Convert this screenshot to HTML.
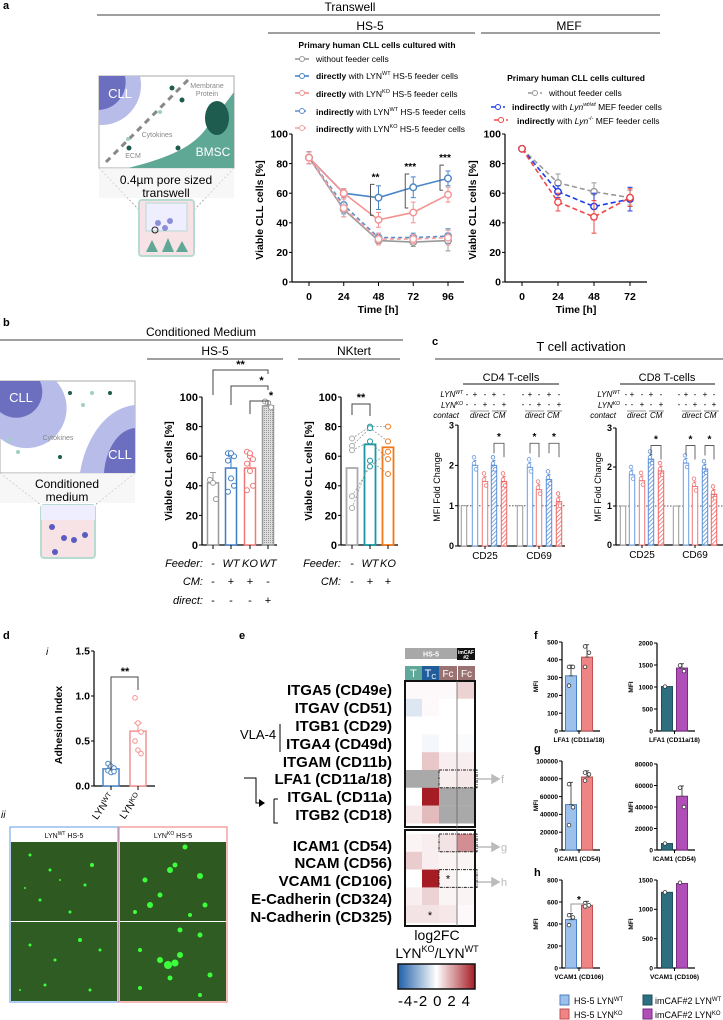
<!DOCTYPE html>
<html><head><meta charset="utf-8"><title>LYN figure</title>
<style>
html,body{margin:0;padding:0;background:#fff;}
svg{display:block;font-family:"Liberation Sans Narrow","Liberation Sans",sans-serif;}
.b{font-weight:bold;}
</style></head>
<body>
<svg id="fig" width="723" height="1020" viewBox="0 0 723 1020" xmlns="http://www.w3.org/2000/svg">
<defs>
<pattern id="hatchB" width="3" height="3" patternUnits="userSpaceOnUse" patternTransform="rotate(45)"><rect width="3" height="3" fill="#fff"/><line x1="0" y1="0" x2="0" y2="3" stroke="#5b8fd8" stroke-width="1.6"/></pattern>
<pattern id="hatchR" width="3" height="3" patternUnits="userSpaceOnUse" patternTransform="rotate(45)"><rect width="3" height="3" fill="#fff"/><line x1="0" y1="0" x2="0" y2="3" stroke="#f06868" stroke-width="1.6"/></pattern>
<pattern id="dots" width="2" height="2" patternUnits="userSpaceOnUse"><rect width="2" height="2" fill="#ddd"/><rect width="1" height="1" fill="#999"/></pattern>
<linearGradient id="cbar" x1="0" x2="1" y1="0" y2="0"><stop offset="0" stop-color="#1f5fa8"/><stop offset="0.5" stop-color="#ffffff"/><stop offset="1" stop-color="#a51c24"/></linearGradient>
</defs>

<g>
<text x="3" y="9" font-size="11" class="b">a</text>
<text x="350" y="11" font-size="12" text-anchor="middle">Transwell</text>
<line x1="97" y1="15" x2="660" y2="15" stroke="#666" stroke-width="1.3"/>
<text x="370" y="30" font-size="12" text-anchor="middle">HS-5</text>
<line x1="268" y1="33" x2="475" y2="33" stroke="#666" stroke-width="1.3"/>
<text x="569" y="30" font-size="12" text-anchor="middle">MEF</text>
<line x1="481" y1="33" x2="660" y2="33" stroke="#666" stroke-width="1.3"/>
</g>

<g>
<rect x="99" y="76" width="135" height="92" fill="#fff" stroke="#aaa"/>
<path d="M99 76 H140 A40 40 0 0 1 99 125 Z" fill="#b7bde8"/>
<path d="M99 76 H125 A28 28 0 0 1 99 110 Z" fill="#6c6fbf"/>
<text x="120" y="98" font-size="13" fill="#fff" text-anchor="middle">CLL</text>
<path d="M234 92 L205 130 C190 150 160 160 128 168 H234 Z" fill="#5fa896"/>
<ellipse cx="217" cy="118" rx="12" ry="17" fill="#1d5c4f"/>
<text x="213" y="156" font-size="12" fill="#fff" text-anchor="middle">BMSC</text>
<line x1="106" y1="162" x2="190" y2="78" stroke="#888" stroke-width="3" stroke-dasharray="6,5"/>
<text x="207" y="88" font-size="7" fill="#888" text-anchor="middle">Membrane</text>
<text x="207" y="96" font-size="7" fill="#888" text-anchor="middle">Protein</text>
<text x="157" y="137" font-size="7" fill="#888" text-anchor="middle">Cytokines</text>
<text x="133" y="158" font-size="7" fill="#888" text-anchor="middle">ECM</text>
<circle cx="172" cy="88" r="2.5" fill="#1d5c4f"/><circle cx="182" cy="100" r="2.5" fill="#1d5c4f"/>
<circle cx="128" cy="139" r="2" fill="#9fd0c0"/><circle cx="160" cy="112" r="2" fill="#9fd0c0"/>
<circle cx="129" cy="148" r="2.5" fill="#1d5c4f"/><circle cx="178" cy="148" r="2.5" fill="#1d5c4f"/>
<path d="M99 168 L139 210 M234 168 L194 210" stroke="#aaa" stroke-dasharray="2,2"/>
<rect x="99" y="168" width="135" height="30" fill="#f2f2f2" opacity="0.6"/>
<text x="166" y="184" font-size="12" text-anchor="middle">0.4µm pore sized</text>
<text x="166" y="197" font-size="12" text-anchor="middle">transwell</text>
<rect x="139" y="200" width="55" height="56" rx="3" fill="#f7e3e6" stroke="#b7dbd2" stroke-width="2"/>
<rect x="146" y="203" width="41" height="28" fill="#eef" stroke="#b7dbd2"/>
<circle cx="158" cy="223" r="3" fill="#8d8fd6"/><circle cx="170" cy="221" r="3" fill="#8d8fd6"/><circle cx="165" cy="228" r="3" fill="#8d8fd6"/>
<path d="M146 252 L152 240 L158 252 M162 252 L168 238 L174 252 M176 252 L182 241 L188 252" fill="#5fa896"/>
<circle cx="155" cy="230" r="3" fill="none" stroke="#222"/>
</g>

<g>
<text x="3" y="326" font-size="11" class="b">b</text>
<text x="201" y="336" font-size="12" text-anchor="middle">Conditioned Medium</text>
<line x1="0" y1="340" x2="403" y2="340" stroke="#666" stroke-width="1.3"/>
<text x="215" y="355" font-size="12" text-anchor="middle">HS-5</text>
<line x1="147" y1="359" x2="283" y2="359" stroke="#666" stroke-width="1.3"/>
<text x="354" y="355" font-size="12" text-anchor="middle">NKtert</text>
<line x1="298" y1="359" x2="400" y2="359" stroke="#666" stroke-width="1.3"/>
</g>

<g>
<rect x="0" y="381" width="135" height="92" fill="#fff" stroke="#aaa"/>
<path d="M0 381 H56 A40 40 0 0 1 0 438 Z" fill="#b7bde8"/>
<path d="M0 381 H40 A26 26 0 0 1 0 412 Z" fill="#6c6fbf"/>
<text x="21" y="402" font-size="13" fill="#fff" text-anchor="middle">CLL</text>
<path d="M135 405 C105 408 85 440 80 473 H135 Z" fill="#b7bde8"/>
<path d="M135 428 C115 430 105 455 104 473 H135 Z" fill="#6c6fbf"/>
<text x="120" y="459" font-size="13" fill="#fff" text-anchor="middle">CLL</text>
<text x="58" y="440" font-size="7" fill="#888" text-anchor="middle">Cytokines</text>
<circle cx="70" cy="393" r="2" fill="#1d5c4f"/><circle cx="92" cy="393" r="2" fill="#9fd0c0"/><circle cx="110" cy="393" r="2" fill="#1d5c4f"/>
<circle cx="83" cy="405" r="2" fill="#9fd0c0"/><circle cx="10" cy="440" r="2" fill="#9fd0c0"/><circle cx="18" cy="452" r="2" fill="#9fd0c0"/><circle cx="60" cy="457" r="2" fill="#1d5c4f"/>
<path d="M0 473 L41 505 M135 473 L95 505" stroke="#aaa" stroke-dasharray="2,2"/>
<rect x="0" y="473" width="135" height="30" fill="#f2f2f2" opacity="0.6"/>
<text x="67" y="488" font-size="12" text-anchor="middle">Conditioned</text>
<text x="67" y="501" font-size="12" text-anchor="middle">medium</text>
<rect x="41" y="505" width="54" height="53" rx="3" fill="#f7e3e6" stroke="#b7dbd2" stroke-width="2"/>
<rect x="41" y="505" width="54" height="15" fill="#eef"/>
<circle cx="52" cy="527" r="3" fill="#5a5cc0"/><circle cx="64" cy="538" r="3" fill="#5a5cc0"/><circle cx="74" cy="540" r="3" fill="#5a5cc0"/><circle cx="85" cy="535" r="3" fill="#5a5cc0"/><circle cx="55" cy="552" r="3" fill="#5a5cc0"/>
</g>

<g>
<text x="432" y="345" font-size="11" class="b">c</text>
<text x="581" y="351" font-size="13" text-anchor="middle">T cell activation</text>
<line x1="435" y1="359" x2="723" y2="359" stroke="#666" stroke-width="1.3"/>
<text x="511" y="381" font-size="11" text-anchor="middle">CD4 T-cells</text>
<line x1="463" y1="384" x2="559" y2="384" stroke="#444" stroke-width="1.3"/>
<text x="667" y="381" font-size="11" text-anchor="middle">CD8 T-cells</text>
<line x1="620" y1="384" x2="715" y2="384" stroke="#444" stroke-width="1.3"/>
</g>

<g>
<text x="3" y="639" font-size="11" class="b">d</text>
<text x="46" y="655" font-size="10" font-style="italic">i</text>
<text x="1" y="818" font-size="10" font-style="italic">ii</text>
<text x="239" y="639" font-size="11" class="b">e</text>
<text x="534" y="639" font-size="11" class="b">f</text>
<text x="534" y="752" font-size="11" class="b">g</text>
<text x="534" y="876" font-size="11" class="b">h</text>
</g>

<g>
<rect x="10" y="827" width="108" height="175" fill="#fff" stroke="#7aaee8" stroke-width="1.2"/>
<text x="64" y="838" font-size="7" text-anchor="middle">LYN<tspan font-size="5" dy="-3">WT</tspan><tspan dy="3"> HS-5</tspan></text>
<rect x="119" y="827" width="108" height="175" fill="#fff" stroke="#f08c8c" stroke-width="1.2"/>
<text x="173" y="838" font-size="7" text-anchor="middle">LYN<tspan font-size="5" dy="-3">KO</tspan><tspan dy="3"> HS-5</tspan></text>
<rect x="11" y="842" width="106" height="79" fill="#2e5a22"/>
<rect x="11" y="922" width="106" height="79" fill="#2f5c22"/>
<rect x="120" y="842" width="106" height="79" fill="#2e5a22"/>
<rect x="120" y="922" width="106" height="79" fill="#2f5c22"/>
<g fill="#3cff3c">
<circle cx="30" cy="855" r="1.5"/><circle cx="50" cy="870" r="1.5"/><circle cx="92" cy="865" r="2"/><circle cx="85" cy="885" r="1.5"/><circle cx="40" cy="900" r="1.5"/><circle cx="70" cy="912" r="1.5"/><circle cx="25" cy="888" r="1"/><circle cx="60" cy="880" r="1"/>
<circle cx="30" cy="945" r="1.5"/><circle cx="80" cy="940" r="2"/><circle cx="55" cy="960" r="1.5"/><circle cx="100" cy="950" r="1.5"/><circle cx="45" cy="985" r="1.5"/><circle cx="90" cy="990" r="1.5"/><circle cx="20" cy="990" r="1"/>
<circle cx="185" cy="847" r="2.5"/><circle cx="170" cy="870" r="3"/><circle cx="175" cy="865" r="2.5"/><circle cx="145" cy="880" r="2.5"/><circle cx="200" cy="876" r="3"/><circle cx="160" cy="895" r="2.5"/><circle cx="150" cy="905" r="3"/><circle cx="135" cy="912" r="2"/><circle cx="205" cy="905" r="2.5"/><circle cx="190" cy="915" r="2"/>
<circle cx="180" cy="930" r="2.5"/><circle cx="200" cy="935" r="2.5"/><circle cx="168" cy="965" r="4"/><circle cx="175" cy="963" r="3.5"/><circle cx="180" cy="955" r="3"/><circle cx="160" cy="960" r="3"/><circle cx="140" cy="950" r="2"/><circle cx="210" cy="975" r="2.5"/><circle cx="170" cy="978" r="2.5"/><circle cx="140" cy="988" r="2"/><circle cx="200" cy="995" r="2"/>
</g>
</g>

<g>
<rect x="405" y="648" width="52" height="11" fill="#a8a8a8"/>
<text x="431" y="656.5" font-size="7" fill="#fff" text-anchor="middle" class="b">HS-5</text>
<rect x="457" y="648" width="18" height="12" fill="#111"/>
<text x="466" y="654" font-size="5" fill="#fff" text-anchor="middle" class="b">imCAF</text>
<text x="466" y="659" font-size="5" fill="#fff" text-anchor="middle" class="b">#2</text>
<rect x="405" y="666" width="17" height="14" fill="#5fa89a"/>
<text x="413.5" y="677" font-size="11" fill="#fff" text-anchor="middle">T</text>
<rect x="422" y="666" width="17" height="14" fill="#1f5d9c"/>
<text x="430.5" y="677" font-size="11" fill="#fff" text-anchor="middle">T<tspan font-size="7" dy="2">C</tspan></text>
<rect x="439" y="666" width="18" height="14" fill="#9a7272"/>
<text x="448" y="677" font-size="10" fill="#fff" text-anchor="middle">Fc</text>
<rect x="458" y="666" width="17" height="14" fill="#9a7272"/>
<text x="466.5" y="677" font-size="10" fill="#fff" text-anchor="middle">Fc</text>
</g>
<g font-size="15" text-anchor="end" font-weight="bold">
<text x="392" y="695">ITGA5 (CD49e)</text>
<text x="392" y="713">ITGAV (CD51)</text>
<text x="392" y="731">ITGB1 (CD29)</text>
<text x="392" y="749">ITGA4 (CD49d)</text>
<text x="392" y="767">ITGAM (CD11b)</text>
<text x="392" y="784">LFA1 (CD11a/18)</text>
<text x="392" y="802">ITGAL (CD11a)</text>
<text x="392" y="820">ITGB2 (CD18)</text>
<text x="392" y="851">ICAM1 (CD54)</text>
<text x="392" y="868">NCAM (CD56)</text>
<text x="392" y="886">VCAM1 (CD106)</text>
<text x="392" y="904">E-Cadherin (CD324)</text>
<text x="392" y="922">N-Cadherin (CD325)</text>
</g>
<g>
<text x="240" y="739" font-size="13">VLA-4</text>
<line x1="280" y1="724" x2="280" y2="752" stroke="#000"/>
<path d="M244 778 H256 V803 H262" fill="none" stroke="#000"/>
<path d="M259 799 L265 803 L259 807 Z" fill="#000"/>
<path d="M274 799 V823 H278 M274 799 H278" fill="none" stroke="#000"/>
<text x="437" y="940" font-size="14" text-anchor="middle">log2FC</text>
<text x="437" y="958" font-size="14" text-anchor="middle">LYN<tspan font-size="9" dy="-6">KO</tspan><tspan dy="6">/LYN</tspan><tspan font-size="9" dy="-6">WT</tspan></text>
<rect x="398" y="964" width="77" height="25" fill="url(#cbar)" stroke="#111" stroke-width="1.5"/>
<text x="398" y="1006" font-size="15" textLength="72">-4-2 0 2 4</text>
<g stroke="#bbb" stroke-width="1.5" fill="#bbb">
<line x1="477" y1="779" x2="494" y2="779"/><path d="M492 775 L499 779 L492 783Z"/>
<line x1="477" y1="847" x2="494" y2="847"/><path d="M492 843 L499 847 L492 851Z"/>
<line x1="477" y1="882" x2="494" y2="882"/><path d="M492 878 L499 882 L492 886Z"/>
</g>
<text x="501" y="783" font-size="11" fill="#bbb">f</text>
<text x="501" y="851" font-size="11" fill="#bbb">g</text>
<text x="501" y="886" font-size="11" fill="#bbb">h</text>
</g>

<g font-size="9">
<rect x="560" y="995" width="9" height="10" fill="#9dc1ea" stroke="#4a7fc0"/><text x="574" y="1004">HS-5 LYN<tspan font-size="6" dy="-3">WT</tspan></text>
<rect x="560" y="1009" width="9" height="10" fill="#ee8484" stroke="#c05050"/><text x="574" y="1018">HS-5 LYN<tspan font-size="6" dy="-3">KO</tspan></text>
<rect x="643" y="995" width="9" height="10" fill="#2d6e80" stroke="#1d4e5a"/><text x="655" y="1004">imCAF#2 LYN<tspan font-size="6" dy="-3">WT</tspan></text>
<rect x="643" y="1009" width="9" height="10" fill="#b04fb8" stroke="#7a2a80"/><text x="655" y="1018">imCAF#2 LYN<tspan font-size="6" dy="-3">KO</tspan></text>
</g>

<g font-size="8.5">
<text x="377" y="48" text-anchor="middle" font-weight="bold">Primary human  CLL cells cultured with</text>
<text x="316" y="62">without feeder cells</text>
<text x="316" y="79"><tspan font-weight="bold">directly</tspan> with LYN<tspan font-size="5.5" dy="-4">WT</tspan><tspan dy="4"> HS-5 feeder cells</tspan></text>
<text x="316" y="97"><tspan font-weight="bold">directly</tspan> with LYN<tspan font-size="5.5" dy="-4">KO</tspan><tspan dy="4"> HS-5 feeder cells</tspan></text>
<text x="316" y="115"><tspan font-weight="bold">indirectly</tspan> with LYN<tspan font-size="5.5" dy="-4">WT</tspan><tspan dy="4"> HS-5 feeder cells</tspan></text>
<text x="316" y="132"><tspan font-weight="bold">indirectly</tspan> with LYN<tspan font-size="5.5" dy="-4">KO</tspan><tspan dy="4"> HS-5 feeder cells</tspan></text>
</g>
<g font-size="8.5">
<text x="576" y="81" text-anchor="middle" font-weight="bold">Primary human CLL cells cultured</text>
<text x="549" y="96">without feeder cells</text>
<text x="512" y="110"><tspan font-weight="bold">indirectly</tspan> with <tspan font-style="italic">Lyn</tspan><tspan font-size="5.5" dy="-4" font-style="italic">wt/wt</tspan><tspan dy="4"> MEF feeder cells</tspan></text>
<text x="517" y="124"><tspan font-weight="bold">indirectly</tspan> with <tspan font-style="italic">Lyn</tspan><tspan font-size="5.5" dy="-4">-/-</tspan><tspan dy="4"> MEF feeder cells</tspan></text>
</g>
<g font-weight="bold" font-size="10.5">
<text transform="translate(263,210) rotate(-90)" text-anchor="middle">Viable CLL cells [%]</text>
<text x="378" y="313" text-anchor="middle">Time [h]</text>
<text transform="translate(476,210) rotate(-90)" text-anchor="middle">Viable CLL cells [%]</text>
<text x="576" y="313" text-anchor="middle">Time [h]</text>
<text transform="translate(172,471) rotate(-90)" text-anchor="middle">Viable CLL cells [%]</text>
<text transform="translate(312,471) rotate(-90)" text-anchor="middle">Viable CLL cells [%]</text>
<text transform="translate(440,487) rotate(-90)" text-anchor="middle" font-weight="normal" font-size="9">MFI Fold Change</text>
<text transform="translate(601,487) rotate(-90)" text-anchor="middle" font-weight="normal" font-size="9">MFI Fold Change</text>
<text transform="translate(62,725) rotate(-90)" text-anchor="middle">Adhesion  Index</text>
</g>
<g font-size="11" font-style="italic" text-anchor="end">
<text x="203" y="567">Feeder:</text><text x="203" y="585">CM:</text><text x="203" y="604">direct:</text>
<text x="341" y="567">Feeder:</text><text x="341" y="585">CM:</text>
</g>
<g font-size="8" font-style="italic" text-anchor="end">
<text x="463" y="397">LYN<tspan font-size="5" dy="-3">WT</tspan></text><text x="463" y="408">LYN<tspan font-size="5" dy="-3">KO</tspan></text><text x="459" y="418">contact</text>
<text x="620" y="397">LYN<tspan font-size="5" dy="-3">WT</tspan></text><text x="620" y="408">LYN<tspan font-size="5" dy="-3">KO</tspan></text><text x="616" y="418">contact</text>
</g>
<g font-size="8" font-style="italic">
<text x="470" y="418">direct</text><text x="493" y="418">CM</text><text x="525" y="418">direct</text><text x="547" y="418">CM</text>
<text x="627" y="418">direct</text><text x="650" y="418">CM</text><text x="682" y="418">direct</text><text x="704" y="418">CM</text>
<g stroke="#333" stroke-width="0.6"><line x1="470" y1="411" x2="489" y2="411"/><line x1="492" y1="411" x2="507" y2="411"/><line x1="525" y1="411" x2="544" y2="411"/><line x1="547" y1="411" x2="562" y2="411"/>
<line x1="627" y1="411" x2="646" y2="411"/><line x1="649" y1="411" x2="664" y2="411"/><line x1="682" y1="411" x2="701" y2="411"/><line x1="704" y1="411" x2="719" y2="411"/></g>
</g>

<script>
const NS='http://www.w3.org/2000/svg';
const svg=document.getElementById('fig');
// ---------- data: panel a (HS-5) ----------
const timesHS=[0,24,48,72,96];
const withoutHS=[84,49,28,27,28];
const withoutHSerr=[4,5,3,3,7];
const directWT=[84,60,57,64,70];
const directWTerr=[4,3,8,7,5];
const directKO=[84,60,42,47,59];
const directKOerr=[4,3,5,7,5];
const indirectWT=[84,52,30,30,31];
const indirectWTerr=[4,6,3,3,5];
const indirectKO=[84,50,29,29,30];
const indirectKOerr=[4,6,4,3,5];
const sigHS=['**','***','***'];
const sigHStimes=[48,72,96];
const ticksA=[0,20,40,60,80,100];
// ---------- data: panel a (MEF) ----------
const timesMEF=[0,24,48,72];
const withoutMEF=[90,67,61,57];
const withoutMEFerr=[1,6,6,5];
const mefWT=[90,61,51,56];
const mefWTerr=[0,4,9,8];
const mefKO=[90,54,44,57];
const mefKOerr=[0,6,11,6];
// ---------- data: panel b ----------
const bHSvals=[42,52,52,94];
const bHSerr=[7,8,8,3];
const bHSpts=[[44,42,31],[62,61,60,57,45,40,36,62],[63,60,58,55,50,40,37,62],[97,96,93]];
const bHSfeeder=['-','WT','KO','WT'];
const bHScm=['-','+','+','-'];
const bHSdirect=['-','-','-','+'];
const bNKvals=[52,68,66];
const bNKdonors=[[72,80,80],[67,79,70],[64,70,58],[33,53,63],[25,57,48]];
const bNKfeeder=['-','WT','KO'];
const bNKcm=['-','+','+'];
// ---------- data: panel c ----------
const cCats=['CD25','CD69'];
const cd4CD25=[1,2.0,1.6,2.0,1.6];
const cd4CD69=[1,1.95,1.4,1.65,1.1];
const cd8CD25=[1,1.8,1.65,2.2,1.9];
const cd8CD69=[1,2.1,1.5,1.95,1.3];
const cLynWT=['+','-','+','-'];
const cLynKO=['-','+','-','+'];
const ticksC=[0,1,2,3];
// ---------- data: panel d ----------
const dVals=[0.19,0.61];
const dErr=[0.02,0.09];
const dPts=[[0.25,0.22,0.2,0.17,0.15,0.16],[0.98,0.7,0.6,0.5,0.4,0.36]];
const ticksD=[0,0.5,1.0,1.5];
// ---------- data: panel e heatmap ----------
const hmRows=['ITGA5','ITGAV','ITGB1','ITGA4','ITGAM','LFA1','ITGAL','ITGB2','ICAM1','NCAM','VCAM1','ECAD','NCAD'];
const hmT  =[0.1,-0.6,0,0,0,null,0,0.4,0.2,0.9,0,0.3,0.5];
const hmTc =[0.1,0.1,0,-0.2,1.0,null,4,1.2,0.3,0.3,4,0.8,0.5];
const hmFc =[0.1,0,0,0,0.3,0.3,null,null,0.5,0.2,0.2,0.2,0.4];
const hmFc2=[0.8,0,0,-0.1,0.3,0.4,null,null,2.0,0.2,0,0.2,0.1];
// ---------- data: panels f,g,h ----------
const fLeft=[310,415];const fLeftPts=[[360,360,255],[475,440,360]];
const fRight=[1010,1430];const fRightPts=[[1010],[1490,1360]];
const gLeft=[51000,82000];const gLeftPts=[[74000,48000,28000],[87000,85000,78000]];
const gRight=[6000,50000];const gRightPts=[[6000],[58000,40000]];
const hLeft=[440,570];const hLeftPts=[[480,460,390],[590,570,560]];
const hRight=[1290,1440];const hRightPts=[[1290],[1455]];
const fTicks=[0,100,200,300,400,500];
const fTicksR=[0,500,1000,1500,2000];
const gTicks=[0,20000,40000,60000,80000,100000];
const gTicksR=[0,20000,40000,60000,80000];
const hTicks=[0,200,400,600,800];
const hTicksR=[0,500,1000,1500];

function mk(tag,attrs,name){
  const el=document.createElementNS(NS,tag);
  for(const k in attrs) el.setAttribute(k,attrs[k]);
  
  
  svg.appendChild(el);
  return el;
}
function tx(x,y,s,attrs,name){const el=mk('text',Object.assign({x:x,y:y},attrs||{}),name);el.textContent=s;return el;}
function yAxis(x,ys,ticks,lab,size,name){
  mk('line',{x1:x,x2:x,y1:ys(ticks[0]),y2:ys(ticks[ticks.length-1]),stroke:'#000','stroke-width':1.2},name+'-line');
  ticks.forEach(t=>{
    mk('line',{x1:x-3,x2:x,y1:ys(t),y2:ys(t),stroke:'#000'},name+'-tick');
    tx(x-4,ys(t)+size*0.35,lab(t),{'font-size':size,'text-anchor':'end','font-weight':'bold'},name+'-label');
  });
}
function errBar(x,y1,y2,c,w,name){
  mk('line',{x1:x,x2:x,y1:y1,y2:y2,stroke:c},name);
  mk('line',{x1:x-w,x2:x+w,y1:y1,y2:y1,stroke:c},name+'-cap');
  mk('line',{x1:x-w,x2:x+w,y1:y2,y2:y2,stroke:c},name+'-cap');
}

// ===== Panel a HS-5 =====
const xa=t=>309+t*(448-309)/96, ya=v=>282-v*1.48;
yAxis(292,ya,ticksA,t=>t,10.5,'hs5-y-axis');
mk('line',{x1:292,x2:464,y1:282,y2:282,stroke:'#000','stroke-width':1.2},'hs5-x-axis');
timesHS.forEach(t=>{mk('line',{x1:xa(t),x2:xa(t),y1:282,y2:286,stroke:'#000'},'hs5-x-tick');tx(xa(t),300,t,{'font-size':10.5,'text-anchor':'middle','font-weight':'bold'},'hs5-x-label');});
const seriesHS=[[withoutHS,withoutHSerr,'#999','','without',59],[indirectWT,indirectWTerr,'#5a8fc8','4,3','indirect-wt',111],[indirectKO,indirectKOerr,'#f4a0a0','4,3','indirect-ko',128],[directWT,directWTerr,'#4a86c5','','direct-wt',76],[directKO,directKOerr,'#f49292','','direct-ko',93]];
seriesHS.forEach(s=>{
  const pts=s[0].map((v,i)=>xa(timesHS[i])+','+ya(v)).join(' ');
  mk('polyline',{points:pts,fill:'none',stroke:s[2],'stroke-width':1.6,'stroke-dasharray':s[3]},'hs5-line-'+s[4]);
  s[0].forEach((v,i)=>{
    errBar(xa(timesHS[i]),ya(v+s[1][i]),ya(v-s[1][i]),s[2],2.5,'hs5-error-'+s[4]);
    mk('circle',{cx:xa(timesHS[i]),cy:ya(v),r:3.3,fill:'#fff',stroke:s[2],'stroke-width':1.4},'hs5-point-'+s[4]);
  });
  const ly=s[5];
  mk('line',{x1:295,x2:309,y1:ly,y2:ly,stroke:s[2],'stroke-width':1.6,'stroke-dasharray':s[3]},'hs5-legend-line');
  mk('circle',{cx:302,cy:ly,r:2.5,fill:'#fff',stroke:s[2]},'hs5-legend-marker');
});
sigHStimes.forEach((t,i)=>{
  const k=timesHS.indexOf(t);
  const x=xa(t)-8, yt=ya(directWT[k]+9), yb=ya(directKO[k]+3);
  mk('path',{d:`M${x+4} ${yt} H${x} V${yb} H${x+3}`,fill:'none',stroke:'#555'},'hs5-sig-bracket');
  tx(xa(t)-3,yt-4,sigHS[i],{'font-size':10,'text-anchor':'middle','font-weight':'bold'},'hs5-sig-label');
});

// ===== Panel a MEF =====
const xm=t=>522+t*(630-522)/72;
yAxis(505,ya,ticksA,t=>t,10.5,'mef-y-axis');
mk('line',{x1:505,x2:647,y1:282,y2:282,stroke:'#000','stroke-width':1.2},'mef-x-axis');
timesMEF.forEach(t=>{mk('line',{x1:xm(t),x2:xm(t),y1:282,y2:286,stroke:'#000'},'mef-x-tick');tx(xm(t),300,t,{'font-size':10.5,'text-anchor':'middle','font-weight':'bold'},'mef-x-label');});
const seriesMEF=[[withoutMEF,withoutMEFerr,'#999','without',93],[mefWT,mefWTerr,'#1f3ce8','wt',107],[mefKO,mefKOerr,'#f04646','ko',120]];
seriesMEF.forEach(s=>{
  mk('polyline',{points:s[0].map((v,i)=>xm(timesMEF[i])+','+ya(v)).join(' '),fill:'none',stroke:s[2],'stroke-width':1.6,'stroke-dasharray':'5,3'},'mef-line-'+s[3]);
  s[0].forEach((v,i)=>{
    errBar(xm(timesMEF[i]),ya(v+s[1][i]),ya(v-s[1][i]),s[2],2.5,'mef-error-'+s[3]);
    mk('circle',{cx:xm(timesMEF[i]),cy:ya(v),r:3.2,fill:'#fff',stroke:s[2],'stroke-width':1.4},'mef-point-'+s[3]);
  });
  const lx=s[3]==='without'?528:(s[3]==='wt'?491:494);
  mk('line',{x1:lx,x2:lx+14,y1:s[4],y2:s[4],stroke:s[2],'stroke-width':1.6,'stroke-dasharray':'4,2'},'mef-legend-line');
  mk('circle',{cx:lx+7,cy:s[4],r:2.5,fill:'#fff',stroke:s[2]},'mef-legend-marker');
});

// ===== Panel b HS-5 bars =====
const yb=v=>545-v*1.48;
const bHSx=[213,231,250,268], bHScol=['#999','#3f7fc4','#f07878','#999'];
yAxis(202,yb,ticksA,t=>t,11,'b-hs5-y-axis');
mk('line',{x1:202,x2:277,y1:545,y2:545,stroke:'#000','stroke-width':1.2},'b-hs5-x-axis');
bHSvals.forEach((v,i)=>{
  mk('rect',{x:bHSx[i]-5.5,y:yb(v),width:11,height:545-yb(v),fill:i===3?'url(#dots)':'#fff',stroke:bHScol[i],'stroke-width':1.5},'b-hs5-bar');
  errBar(bHSx[i],yb(v+bHSerr[i]),yb(v),bHScol[i],3,'b-hs5-error');
  bHSpts[i].forEach((p,j)=>mk('circle',{cx:bHSx[i]+((j%3)-1)*3,cy:yb(p),r:2.5,fill:'#fff',stroke:bHScol[i]},'b-hs5-point'));
  mk('line',{x1:bHSx[i],x2:bHSx[i],y1:545,y2:549,stroke:'#000'},'b-hs5-x-tick');
  tx(bHSx[i],567,bHSfeeder[i],{'font-size':11,'font-style':'italic','text-anchor':'middle'},'b-hs5-feeder-label');
  tx(bHSx[i],585,bHScm[i],{'font-size':11,'text-anchor':'middle'},'b-hs5-cm-label');
  tx(bHSx[i],604,bHSdirect[i],{'font-size':11,'text-anchor':'middle'},'b-hs5-direct-label');
});
[[0,'**',370],[1,'*',386],[2,'*',401]].forEach(s=>{
  const x1=bHSx[s[0]];
  mk('path',{d:`M${x1} ${s[2]+25-s[0]*6} V${s[2]} H${bHSx[3]} V${s[2]+4}`,fill:'none',stroke:'#444'},'b-hs5-sig-bracket');
  tx((x1+bHSx[3])/2+(s[0]?12:0),s[2]-2,s[1],{'font-size':11,'text-anchor':'middle','font-weight':'bold'},'b-hs5-sig-label');
});
// ===== Panel b NKtert =====
const bNKx=[352,370,388], bNKcol=['#aaa','#1a98a2','#f07a1c'];
yAxis(341,yb,ticksA,t=>t,11,'b-nk-y-axis');
mk('line',{x1:341,x2:398,y1:545,y2:545,stroke:'#000','stroke-width':1.2},'b-nk-x-axis');
bNKvals.forEach((v,i)=>{
  mk('rect',{x:bNKx[i]-5.5,y:yb(v),width:11,height:545-yb(v),fill:'#fff',stroke:bNKcol[i],'stroke-width':1.8},'b-nk-bar');
  mk('line',{x1:bNKx[i],x2:bNKx[i],y1:545,y2:549,stroke:'#000'},'b-nk-x-tick');
  tx(bNKx[i],567,bNKfeeder[i],{'font-size':11,'font-style':'italic','text-anchor':'middle'},'b-nk-feeder-label');
  tx(bNKx[i],585,bNKcm[i],{'font-size':11,'text-anchor':'middle'},'b-nk-cm-label');
});
bNKdonors.forEach(d=>{
  mk('polyline',{points:d.map((v,i)=>bNKx[i]+','+yb(v)).join(' '),fill:'none',stroke:'#999','stroke-dasharray':'2,1.5','stroke-width':0.8},'b-nk-donor-line');
  d.forEach((v,i)=>mk('circle',{cx:bNKx[i],cy:yb(v),r:2.5,fill:'#fff',stroke:bNKcol[i]},'b-nk-point'));
});
mk('path',{d:`M${bNKx[0]} 415 V 404 H${bNKx[1]} V 416`,fill:'none',stroke:'#444'},'b-nk-sig-bracket');
tx(361,401,'**',{'font-size':11,'text-anchor':'middle','font-weight':'bold'},'b-nk-sig-label');

// ===== Panel c =====
function tPanel(ax,y0,scale,xs,vals,pref){
  const yc=v=>y0-v*scale;
  yAxis(ax,yc,ticksC,t=>t,9,pref+'-y-axis');
  mk('line',{x1:ax,x2:ax+107,y1:y0,y2:y0,stroke:'#000','stroke-width':1.2},pref+'-x-axis');
  mk('line',{x1:ax,x2:ax+107,y1:yc(1),y2:yc(1),stroke:'#555','stroke-dasharray':'1.5,1.5'},pref+'-reference-line');
  const cols=['#999','#6d9de0','#f07878','url(#hatchB)','url(#hatchR)'];
  const strokes=['#999','#6d9de0','#f07878','#5b8fd8','#f06868'];
  vals.forEach((g,gi)=>{
    g.forEach((v,i)=>{
      const x=xs[gi][i];
      mk('rect',{x:x-2.7,y:yc(v),width:5.4,height:y0-yc(v),fill:i>=3?cols[i]:'#fff',stroke:strokes[i],'stroke-width':1},pref+'-bar');
      if(i>0){errBar(x,yc(v+0.12),yc(v),strokes[i],1.5,pref+'-error');
        [0.2,0.05,-0.1].forEach(o=>mk('circle',{cx:x+(o>0?-1:1),cy:yc(v+o),r:1.8,fill:'#fff',stroke:strokes[i],'stroke-width':0.8},pref+'-point'));}
    });
    tx(xs[gi][2],y0+13,cCats[gi],{'font-size':10,'text-anchor':'middle'},pref+'-x-label');
    mk('line',{x1:xs[gi][2],x2:xs[gi][2],y1:y0,y2:y0+3,stroke:'#000'},pref+'-x-tick');
  });
  xs.forEach(g=>{
    for(let i=1;i<5;i++){
      tx(g[i],397,cLynWT[i-1],{'font-size':8,'text-anchor':'middle'},pref+'-lynwt-sign');
      tx(g[i],407,cLynKO[i-1],{'font-size':8,'text-anchor':'middle'},pref+'-lynko-sign');
    }
    tx(g[0]+3,397,'-',{'font-size':8,'text-anchor':'middle'},pref+'-lynwt-sign');
    tx(g[0]+3,407,'-',{'font-size':8,'text-anchor':'middle'},pref+'-lynko-sign');
  });
  return yc;
}
const yc4=tPanel(458,546,40.3,[[464,475,485,494,504],[520,530,539,549,559]],[cd4CD25,cd4CD69],'cd4');
const yc8=tPanel(616,545,39,[[623,632,642,651,661],[676,686,695,705,714]],[cd8CD25,cd8CD69],'cd8');
[[494,504,yc4(2.55)],[530,539,yc4(2.55)],[549,559,yc4(2.55)],[651,661,yc8(2.55)],[686,695,yc8(2.55)],[705,714,yc8(2.55)]].forEach(b=>{
  mk('path',{d:`M${b[0]} ${b[2]+10} V${b[2]} H${b[1]} V${b[2]+14}`,fill:'none',stroke:'#444','stroke-width':0.8},'c-sig-bracket');
  tx((b[0]+b[1])/2,b[2]-3,'*',{'font-size':10,'text-anchor':'middle','font-weight':'bold'},'c-sig-label');
});

// ===== Panel d =====
const yd=v=>786-v*90;
yAxis(94,yd,ticksD,t=>t.toFixed(1),10.5,'d-y-axis');
mk('line',{x1:94,x2:155,y1:786,y2:786,stroke:'#000','stroke-width':1.2},'d-x-axis');
const dX=[111,138], dCol=['#4a86c5','#f49292'], dLab=['LYN','LYN'], dSup=['WT','KO'];
dVals.forEach((v,i)=>{
  mk('rect',{x:dX[i]-8,y:yd(v),width:16,height:786-yd(v),fill:'#fff',stroke:dCol[i],'stroke-width':1.5},'d-bar');
  errBar(dX[i],yd(v+dErr[i]),yd(v),dCol[i],4,'d-error');
  dPts[i].forEach((p,j)=>mk('circle',{cx:dX[i]+((j%3)-1)*3,cy:yd(p),r:2.3,fill:'#fff',stroke:dCol[i]},'d-point'));
  mk('line',{x1:dX[i],x2:dX[i],y1:786,y2:790,stroke:'#000'},'d-x-tick');
  const t=tx(0,0,dLab[i],{'font-size':10,'text-anchor':'end',transform:`translate(${dX[i]+3},${796}) rotate(-55)`},'d-x-label');
  const ts=document.createElementNS(NS,'tspan');ts.setAttribute('font-size','7');ts.setAttribute('dy','-3');ts.textContent=dSup[i];t.appendChild(ts);
});
mk('path',{d:`M${dX[0]} 770 V 677 H${dX[1]} V 690`,fill:'none',stroke:'#444'},'d-sig-bracket');
tx(125,675,'**',{'font-size':11,'text-anchor':'middle','font-weight':'bold'},'d-sig-label');

// ===== Panel e heatmap =====
function hmColor(v){
  if(v===null) return '#a9a9a9';
  const t=Math.min(Math.abs(v)/4,1);
  const c=v>=0?[165,28,36]:[31,95,168];
  return 'rgb('+c.map(k=>Math.round(255+(k-255)*t)).join(',')+')';
}
const hmCols=[hmT,hmTc,hmFc,hmFc2], hmX=[405,422,439,457], hmW=[17,17,18,18];
const hmY=i=>i<8?681+i*17.8:834+(i-8)*17.8;
hmRows.forEach((r,i)=>{
  hmCols.forEach((col,c)=>{
    mk('rect',{x:hmX[c],y:hmY(i),width:hmW[c],height:17.9,fill:hmColor(col[i])},'heatmap-cell-'+r);
  });
});
mk('rect',{x:405,y:681,width:70,height:146,fill:'none',stroke:'#111','stroke-width':2},'heatmap-top-block');
mk('rect',{x:405,y:830,width:70,height:96,fill:'none',stroke:'#111','stroke-width':2},'heatmap-bottom-block');
mk('line',{x1:457,x2:457,y1:681,y2:926,stroke:'#666','stroke-width':0.8},'heatmap-divider');
[[5,2],[8,2],[10,2]].forEach(b=>mk('rect',{x:hmX[b[1]],y:hmY(b[0]),width:38,height:17.8,fill:'none',stroke:'#222','stroke-dasharray':'3,1,1,1'},'heatmap-highlight-box'));
tx(448,hmY(10)+13,'*',{'font-size':11,'text-anchor':'middle'},'heatmap-sig');
tx(430,hmY(12)+14,'*',{'font-size':11,'text-anchor':'middle'},'heatmap-sig');

// ===== Panels f,g,h =====
function miniBar(ax,y0,ytop,ticks,vals,pts,xs,cols,strokes,label,pref){
  const max=ticks[ticks.length-1];
  const ys=v=>y0-v*(y0-ytop)/max;
  yAxis(ax,ys,ticks,t=>t,6.5,pref+'-y-axis');
  mk('line',{x1:ax,x2:ax+38,y1:y0,y2:y0,stroke:'#000','stroke-width':1.2},pref+'-x-axis');
  vals.forEach((v,i)=>{
    mk('rect',{x:xs[i]-5.5,y:ys(v),width:11,height:y0-ys(v),fill:cols[i],stroke:strokes[i],'stroke-width':1},pref+'-bar');
    if(pts[i].length>1){const m=Math.max(...pts[i]);errBar(xs[i],ys(m+max*0.02),ys(v),'#555',2,pref+'-error');}
    pts[i].forEach((p,j)=>mk('circle',{cx:xs[i]+(j%2?2:-2),cy:ys(p),r:1.8,fill:'#fff',stroke:'#333','stroke-width':0.8},pref+'-point'));
  });
  mk('line',{x1:(xs[0]+xs[1])/2,x2:(xs[0]+xs[1])/2,y1:y0,y2:y0+3,stroke:'#000'},pref+'-x-tick');
  tx((xs[0]+xs[1])/2,y0+11,label,{'font-size':6.5,'text-anchor':'middle','font-weight':'bold'},pref+'-x-label');
  tx(0,0,'MFI',{'font-size':6.5,'font-weight':'bold','text-anchor':'middle',transform:`translate(${ax-24},${(y0+ytop)/2}) rotate(-90)`},pref+'-y-title');
}
const lc=['#9dc1ea','#ee8484'], ls=['#4a7fc0','#c05050'], rc=['#2d6e80','#b04fb8'], rs=['#1d4e5a','#7a2a80'];
miniBar(562,731,642,fTicks,fLeft,fLeftPts,[571,587],lc,ls,'LFA1 (CD11a/18)','f-left');
miniBar(657,731,643,fTicksR,fRight,fRightPts,[667,682],rc,rs,'LFA1 (CD11a/18)','f-right');
miniBar(562,850,761,gTicks,gLeft,gLeftPts,[571,587],lc,ls,'ICAM1 (CD54)','g-left');
miniBar(657,850,764,gTicksR,gRight,gRightPts,[667,682],rc,rs,'ICAM1 (CD54)','g-right');
miniBar(562,968,880,hTicks,hLeft,hLeftPts,[571,587],lc,ls,'VCAM1 (CD106)','h-left');
miniBar(657,968,880,hTicksR,hRight,hRightPts,[667,682],rc,rs,'VCAM1 (CD106)','h-right');
mk('path',{d:'M571 912 V904 H587 V910',fill:'none',stroke:'#999'},'h-sig-bracket');
tx(579,903,'*',{'font-size':10,'text-anchor':'middle','font-weight':'bold'},'h-sig-label');
</script>
</svg>
</body></html>
